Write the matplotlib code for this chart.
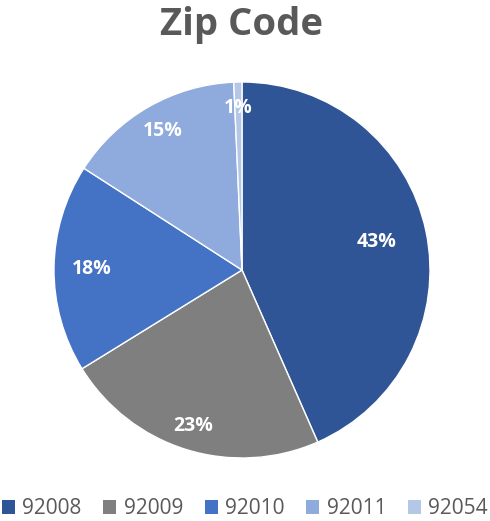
import matplotlib.pyplot as plt
import numpy as np
from matplotlib.patches import Patch

# zip code share
zips = ['92008', '92009', '92010', '92011', '92054']
shares = [43.4, 22.8, 17.9, 15.2, 0.7]
colors = ['#2F5597', '#7F7F7F', '#4472C4', '#8FAADC', '#B4C7E7']
label_dist = [0.73, 0.87, 0.80, 0.85, 0.86]

plt.rcParams['font.family'] = ['Open Sans', 'DejaVu Sans']

fig = plt.figure(figsize=(4.9, 5.21), dpi=100)
ax = fig.add_axes([54 / 490, 63 / 521, 376 / 490, 376 / 521])

wedges, _ = ax.pie(shares, colors=colors, startangle=90, counterclock=False,
                   radius=1.0, wedgeprops=dict(edgecolor='white', linewidth=1))

total = sum(shares)
for w, s, d in zip(wedges, shares, label_dist):
    mid = np.deg2rad((w.theta1 + w.theta2) / 2)
    ax.text(d * np.cos(mid), d * np.sin(mid), f"{s / total * 100:.0f}%",
            ha='center', va='center', color='white', fontsize=14, fontweight='bold')

ax.set_xlim(-1, 1)
ax.set_ylim(-1, 1)
ax.set_aspect('equal')
ax.axis('off')

fig.text(241 / 490, 1 - 25 / 521, 'Zip Code', ha='center', va='center',
         fontsize=27.5, fontweight='bold', color='#595959')

handles = [Patch(facecolor=c, edgecolor='none') for c in colors]
fig.legend(handles, zips, loc='center', bbox_to_anchor=(0.5, 1 - 509 / 521), ncol=5,
           frameon=False, fontsize=15, labelcolor='#595959', handlelength=0.62,
           handleheight=0.62, handletextpad=0.35, columnspacing=1.05, borderaxespad=0,
           borderpad=0)

fig.savefig('out.png', dpi=100)
